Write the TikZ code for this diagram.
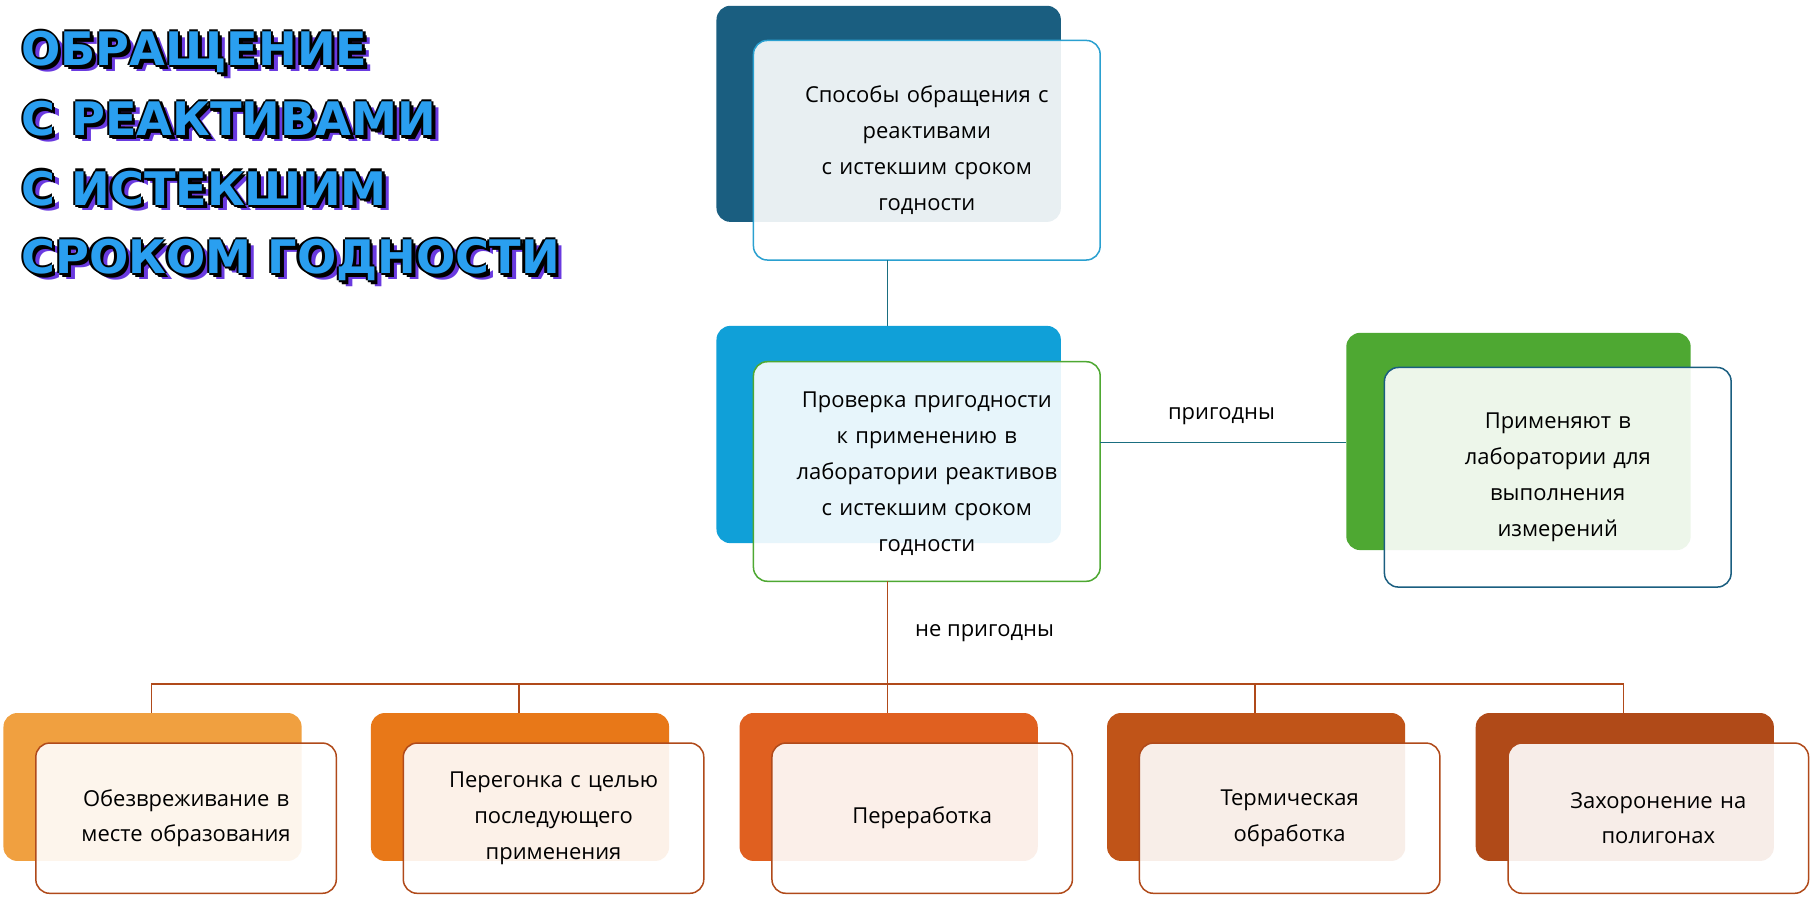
\documentclass[tikz,border=0pt]{standalone}
\usepackage{fontspec}
\setmainfont{Open Sans}
\newfontfamily\titlefont{DejaVu Sans}
\definecolor{dkblue}{HTML}{1A5E80}
\definecolor{ltblue}{HTML}{10A0D8}
\definecolor{bdblue}{HTML}{2AA0D0}
\definecolor{grn}{HTML}{4EA832}
\definecolor{rust}{HTML}{B04A1A}
\definecolor{teal}{HTML}{1A6E80}
\definecolor{c1}{HTML}{F0A040}
\definecolor{c2}{HTML}{E87818}
\definecolor{c3}{HTML}{E06020}
\definecolor{c4}{HTML}{C05418}
\definecolor{c5}{HTML}{B04A18}
\definecolor{tblue}{HTML}{2A9FF0}
\definecolor{tpurp}{HTML}{6A3AE0}
\begin{document}
\begin{tikzpicture}[x=1pt,y=-1pt,
  back/.style={rounded corners=12pt},
  front/.style={rounded corners=12pt,line width=1.3pt,fill=white,fill opacity=0.9,draw opacity=1},
  txt/.style={font=\fontsize{19}{31}\selectfont,align=center,text width=290pt,text=black},
  lbl/.style={font=\fontsize{19}{24}\selectfont,text=black},
  ttl/.style={anchor=west,font=\titlefont\bfseries\fontsize{40}{40}\selectfont}]
\useasboundingbox (0,0) rectangle (1568,779);
\fill[white] (0,0) rectangle (1568,779);
% title
\foreach \t/\yy in {ОБРАЩЕНИЕ/45,С РЕАКТИВАМИ/103,С ИСТЕКШИМ/163,СРОКОМ ГОДНОСТИ/225}{
  \node[ttl,text=tpurp] at (21,\yy+5) {\t};
  \foreach \dx/\dy in {-2/0,2/0,0/-2,0/2,3/3}{
    \node[ttl,text=black] at (15+\dx,\yy+\dy) {\t};}
  \node[ttl,text=tblue] at (15,\yy) {\t};
}
% top
\fill[dkblue,back] (620,5) rectangle (918,192);
\draw[front,draw=bdblue] (652,35) rectangle (952,225);
\node[txt] (top) at (802,130) {Способы обращения с\\ реактивами\\ с истекшим сроком\\ годности};
% middle
\coordinate (ta) at (768,225);
\coordinate (tb) at (768,282);
\draw[teal,line width=1.3pt] (ta) -- (tb);
\fill[ltblue,back] (620,282) rectangle (918,470);
\draw[front,draw=grn] (652,313) rectangle (952,503);
\node[txt] (mid) at (802,410) {Проверка пригодности\\ к применению в\\ лаборатории реактивов\\ с истекшим сроком\\ годности};
% right
\coordinate (ra) at (952,383);
\coordinate (rb) at (1165,383);
\draw[teal,line width=1.3pt] (ra) -- (rb);
\node[lbl] (p1) at (1057,360) {пригодны};
\fill[grn,back] (1165,288) rectangle (1463,476);
\draw[front,draw=dkblue] (1198,318) rectangle (1498,508);
\node[txt,text width=220pt] (right) at (1348,413) {Применяют в\\ лаборатории для\\ выполнения\\ измерений};
% down
\coordinate (da) at (768,503);
\coordinate (db) at (768,592);
\draw[rust,line width=1.3pt] (da) -- (db);
\node[lbl] (p2) at (852,548) {не пригодны};
\coordinate (hl) at (131,592);
\coordinate (hr) at (1405,592);
\draw[rust,line width=1.3pt] (hl) -- (hr);
\foreach \x/\c/\t in {3/c1/{Обезвреживание в\\ месте образования},321/c2/{Перегонка с целью\\ последующего\\ применения},640/c3/{Переработка},958/c4/{Термическая\\обработка},1277/c5/{Захоронение на\\ полигонах}}{
  \draw[rust,line width=1.3pt] (\x+128,592) -- (\x+128,617);
  \fill[\c,back] (\x,617) rectangle (\x+258,745);
  \draw[front,draw=rust] (\x+28,643) rectangle (\x+288,773);
  \node[txt,text width=250pt] at (\x+158,708) {\t};
}
\end{tikzpicture}
\end{document}
